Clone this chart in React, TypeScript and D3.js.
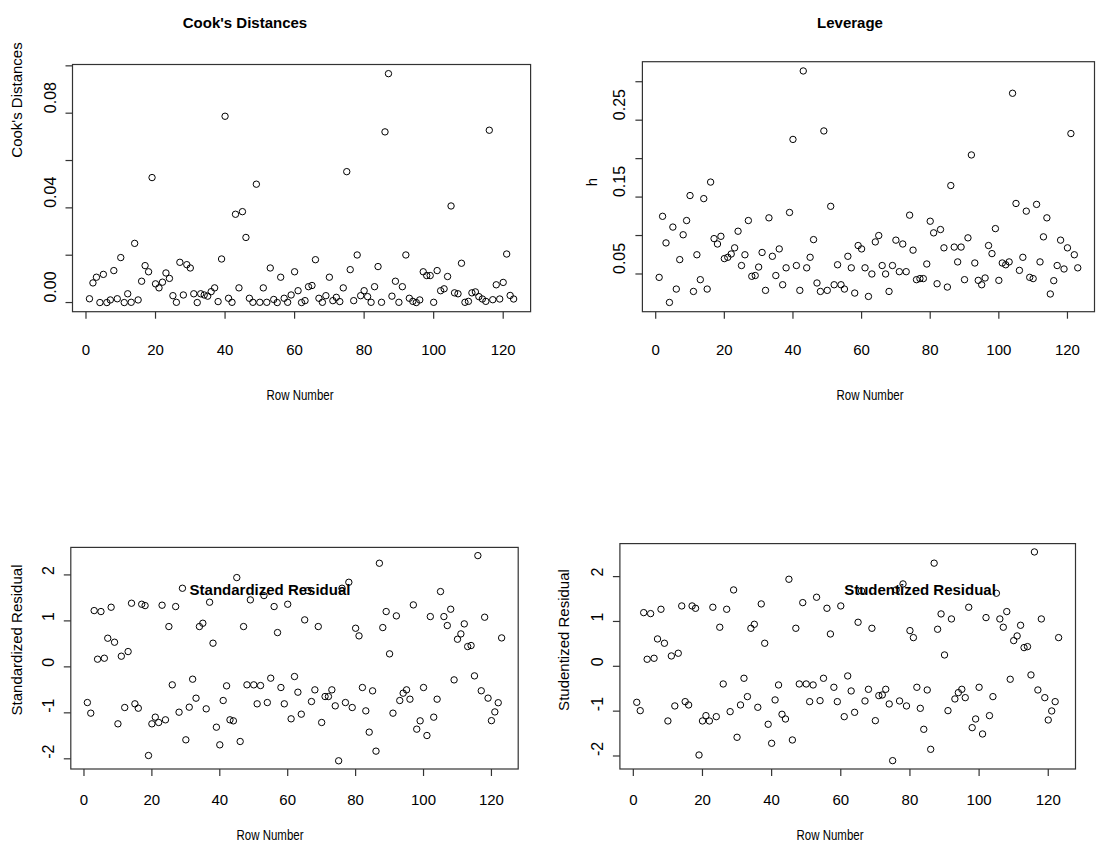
import React from "react";
import * as d3 from "d3";

// ---------- data ----------
const cooksD = [
  0.0016, 0.0083, 0.0107, 0.0, 0.0119, 0.0, 0.0011, 0.0135, 0.0016, 0.019,
  0.0, 0.0037, 0.0001, 0.025, 0.0011, 0.009, 0.0156, 0.013, 0.0528, 0.0079,
  0.0062, 0.0086, 0.0125, 0.0102, 0.0029, 0.0001, 0.017, 0.0032, 0.016, 0.0146,
  0.0037, 0.0, 0.0037, 0.0032, 0.0027, 0.0046, 0.0062, 0.0004, 0.0184, 0.0787,
  0.0018, 0.0001, 0.0373, 0.0062, 0.0384, 0.0275, 0.0018, 0.0001, 0.05, 0.0001,
  0.0062, 0.0001, 0.0146, 0.0013, 0.0, 0.0107, 0.0018, 0.0001, 0.0032, 0.013,
  0.005, 0.0, 0.0008, 0.0067, 0.0072, 0.0181, 0.0018, 0.0001, 0.0029, 0.0107,
  0.0008, 0.0022, 0.0004, 0.0062, 0.0553, 0.0139, 0.0008, 0.0201, 0.0029, 0.005,
  0.0025, 0.0001, 0.0067, 0.0152, 0.0001, 0.0721, 0.0967, 0.0027, 0.009, 0.0001,
  0.0067, 0.0201, 0.0018, 0.0005, 0.0, 0.0011, 0.013, 0.0114, 0.0114, 0.0001,
  0.0135, 0.005, 0.0058, 0.011, 0.0408, 0.0041, 0.0037, 0.0166, 0.0001, 0.0005,
  0.0041, 0.0045, 0.0025, 0.0015, 0.0005, 0.0728, 0.0012, 0.0075, 0.0015, 0.0085,
  0.0205, 0.003, 0.0015,
];

const leverage = [
  0.0456, 0.125, 0.0904, 0.013, 0.111, 0.0304, 0.0687, 0.101, 0.1195, 0.152,
  0.0273, 0.075, 0.0426, 0.148, 0.0304, 0.1695, 0.096, 0.089, 0.099, 0.07,
  0.0717, 0.076, 0.084, 0.1056, 0.061, 0.075, 0.1195, 0.047, 0.048, 0.059,
  0.078, 0.0287, 0.123, 0.073, 0.048, 0.0826, 0.036, 0.058, 0.13, 0.225,
  0.061, 0.0287, 0.314, 0.058, 0.0717, 0.0947, 0.0383, 0.0273, 0.236, 0.0287,
  0.138, 0.036, 0.062, 0.036, 0.0304, 0.073, 0.058, 0.0252, 0.087, 0.0826,
  0.058, 0.0208, 0.05, 0.0917, 0.1, 0.061, 0.05, 0.0273, 0.061, 0.094,
  0.053, 0.089, 0.053, 0.1265, 0.081, 0.0426, 0.044, 0.044, 0.063, 0.1186,
  0.1035, 0.0373, 0.1078, 0.084, 0.033, 0.165, 0.085, 0.0657, 0.085, 0.0426,
  0.097, 0.2048, 0.0643, 0.0417, 0.036, 0.0448, 0.087, 0.0765, 0.109, 0.0417,
  0.0643, 0.062, 0.0657, 0.285, 0.1417, 0.0547, 0.0717, 0.1317, 0.0456, 0.044,
  0.1405, 0.0657, 0.0983, 0.123, 0.024, 0.0413, 0.061, 0.094, 0.0565, 0.084,
  0.2326, 0.075, 0.058,
];

const stdResid = [
  -0.776, -1.007, 1.224, 0.167, 1.203, 0.188, 0.623, 1.297, 0.536, -1.239,
  0.232, -0.884, 0.333, 1.384, -0.804, -0.899, 1.362, 1.333, -1.928, -1.239,
  -1.094, -1.21, 1.341, -1.152, 0.877, -0.391, 1.312, -0.986, 1.71, -1.587,
  -0.877, -0.268, -0.681, 0.877, 0.949, -0.913, 1.406, 0.515, -1.312, -1.696,
  -0.732, -0.413, -1.152, -1.174, 1.942, -1.623, 0.877, -0.391, 1.457, -0.391,
  -0.804, -0.406, 1.551, -0.776, -0.246, 1.312, 0.746, -0.449, -0.804, 1.362,
  -1.13, -0.21, -0.551, -1.029, 1.022, 1.659, -0.754, -0.5, 0.877, -1.21,
  -0.645, -0.645, -0.5, -0.848, -2.043, 1.71, -0.776, 1.84, -0.884, 0.84,
  0.674, -0.449, -0.957, -1.42, -0.522, -1.833, 2.254, 0.855, 1.203, 0.283,
  -1.007, 1.109, -0.732, -0.572, -0.5, -0.703, 1.348, -1.355, -1.174, -0.449,
  -1.493, 1.094, -1.094, -0.703, 1.638, 1.094, 0.899, 1.254, -0.283, 0.601,
  0.717, 0.935, 0.442, 0.464, -0.196, 2.42, -0.52, 1.08, -0.68, -1.17,
  -0.98, -0.78, 0.63,
];

const studResid = [
  -0.803, -0.989, 1.197, 0.157, 1.175, 0.179, 0.61, 1.272, 0.514, -1.219,
  0.231, -0.884, 0.291, 1.346, -0.788, -0.862, 1.346, 1.294, -1.978, -1.219,
  -1.1, -1.219, 1.317, -1.123, 0.871, -0.394, 1.272, -1.011, 1.703, -1.583,
  -0.862, -0.267, -0.676, 0.848, 0.937, -0.914, 1.391, 0.514, -1.293, -1.717,
  -0.75, -0.416, -1.07, -1.175, 1.941, -1.643, 0.848, -0.394, 1.42, -0.394,
  -0.788, -0.416, 1.54, -0.766, -0.267, 1.294, 0.721, -0.468, -0.788, 1.346,
  -1.123, -0.215, -0.55, -1.026, 0.982, 1.681, -0.773, -0.513, 0.848, -1.212,
  -0.654, -0.639, -0.513, -0.84, -2.104, 1.703, -0.773, 1.837, -0.884, 0.796,
  0.64, -0.468, -0.937, -1.405, -0.528, -1.851, 2.3, 0.826, 1.168, 0.253,
  -0.989, 1.056, -0.728, -0.587, -0.513, -0.699, 1.317, -1.368, -1.175, -0.468,
  -1.509, 1.086, -1.1, -0.676, 1.629, 1.056, 0.871, 1.22, -0.289, 0.573,
  0.677, 0.915, 0.417, 0.439, -0.193, 2.55, -0.528, 1.056, -0.699, -1.197,
  -0.996, -0.788, 0.64,
];

const xTicks = [0, 20, 40, 60, 80, 100, 120];
const cooksTicks = [0, 0.02, 0.04, 0.06, 0.08, 0.1];
const cooksTickLabels = ["0.00", "", "0.04", "", "0.08", ""];
const levTicks = [0.05, 0.1, 0.15, 0.2, 0.25, 0.3];
const levTickLabels = ["0.05", "", "0.15", "", "0.25", ""];
const residTicks = [-2, -1, 0, 1, 2];
const residTickLabels = ["-2", "-1", "0", "1", "2"];

// ---------- layout ----------
type Box = { l: number; t: number; r: number; b: number };
type PanelCfg = {
  title: string;
  ylab: string;
  values: number[];
  yTicks: number[];
  yTickLabels: string[];
  box: Box;
  titleX: number;
  titleY: number;
  ylabX: number;
  ylabY: number;
  xlabX: number;
  xlabY: number;
  xTickLabelY: number;
};

const FONT = "'Liberation Sans', Arial, sans-serif";

const panels: PanelCfg[] = [
  {
    title: "Cook's Distances",
    ylab: "Cook's Distances",
    values: cooksD,
    yTicks: cooksTicks,
    yTickLabels: cooksTickLabels,
    box: { l: 72.5, t: 64.5, r: 530.6, b: 311.7 },
    titleX: 245,
    titleY: 28,
    ylabX: 22,
    ylabY: 100,
    xlabX: 300,
    xlabY: 400,
    xTickLabelY: 355,
  },
  {
    title: "Leverage",
    ylab: "h",
    values: leverage,
    yTicks: levTicks,
    yTickLabels: levTickLabels,
    box: { l: 642.4, t: 61.7, r: 1094.5, b: 311.7 },
    titleX: 850,
    titleY: 28,
    ylabX: 597,
    ylabY: 182,
    xlabX: 870,
    xlabY: 400,
    xTickLabelY: 355,
  },
  {
    title: "Standardized Residual",
    ylab: "Standardized Residual",
    values: stdResid,
    yTicks: residTicks,
    yTickLabels: residTickLabels,
    box: { l: 70.8, t: 547.4, r: 518.2, b: 769 },
    titleX: 270,
    titleY: 595,
    ylabX: 22,
    ylabY: 640,
    xlabX: 270,
    xlabY: 840,
    xTickLabelY: 805,
  },
  {
    title: "Studentized Residual",
    ylab: "Studentized Residual",
    values: studResid,
    yTicks: residTicks,
    yTickLabels: residTickLabels,
    box: { l: 619.9, t: 543.6, r: 1075.5, b: 769 },
    titleX: 920,
    titleY: 595,
    ylabX: 569,
    ylabY: 640,
    xlabX: 830,
    xlabY: 840,
    xTickLabelY: 805,
  },
];

function padded(ext: [number, number]): [number, number] {
  const d = (ext[1] - ext[0]) * 0.04;
  return [ext[0] - d, ext[1] + d];
}

function Panel({ cfg }: { cfg: PanelCfg }) {
  const n = cfg.values.length;
  const { box } = cfg;
  const x = d3.scaleLinear().domain(padded([1, n])).range([box.l, box.r]);
  const ext = d3.extent(cfg.values) as [number, number];
  const y = d3.scaleLinear().domain(padded(ext)).range([box.b, box.t]);
  const tickLen = 7;
  return (
    <g>
      <rect
        x={box.l}
        y={box.t}
        width={box.r - box.l}
        height={box.b - box.t}
        fill="none"
        stroke="#333"
        strokeWidth={1.2}
      />
      {xTicks.map((t) => (
        <g key={"x" + t}>
          <line x1={x(t)} x2={x(t)} y1={box.b} y2={box.b + tickLen} stroke="#333" strokeWidth={1.2} />
          <text
            x={x(t)}
            y={cfg.xTickLabelY}
            textAnchor="middle"
            fontSize={15}
            fontFamily={FONT}
            fill="#000"
          >
            {t}
          </text>
        </g>
      ))}
      {cfg.yTicks.map((t, i) => (
        <g key={"y" + t}>
          <line x1={box.l - tickLen} x2={box.l} y1={y(t)} y2={y(t)} stroke="#333" strokeWidth={1.2} />
          {cfg.yTickLabels[i] && (
            <text
              transform={`translate(${box.l - 17},${y(t)}) rotate(-90)`}
              textAnchor="start"
              fontSize={16}
              fontFamily={FONT}
              fill="#000"
            >
              {cfg.yTickLabels[i]}
            </text>
          )}
        </g>
      ))}
      {cfg.values.map((v, i) => (
        <circle key={i} cx={x(i + 1)} cy={y(v)} r={3.2} fill="none" stroke="#000" strokeWidth={1} />
      ))}
      <text
        x={cfg.titleX}
        y={cfg.titleY}
        textAnchor="middle"
        fontSize={15}
        fontWeight="bold"
        fontFamily={FONT}
        fill="#000"
      >
        {cfg.title}
      </text>
      <text
        transform={`translate(${cfg.ylabX},${cfg.ylabY}) rotate(-90)`}
        textAnchor="middle"
        fontSize={15}
        fontFamily={FONT}
        fill="#000"
      >
        {cfg.ylab}
      </text>
      <text
        transform={`translate(${cfg.xlabX},${cfg.xlabY}) scale(0.82,1)`}
        textAnchor="middle"
        fontSize={14}
        fontFamily={FONT}
        fill="#000"
      >
        Row Number
      </text>
    </g>
  );
}

export default function App() {
  return (
    <>
      <style>{`body{margin:0;background:#fff}`}</style>
      <svg width={1096} height={854} style={{ display: "block", background: "#fff" }}>
        {panels.map((p) => (
          <Panel key={p.title + p.ylab} cfg={p} />
        ))}
      </svg>
    </>
  );
}
